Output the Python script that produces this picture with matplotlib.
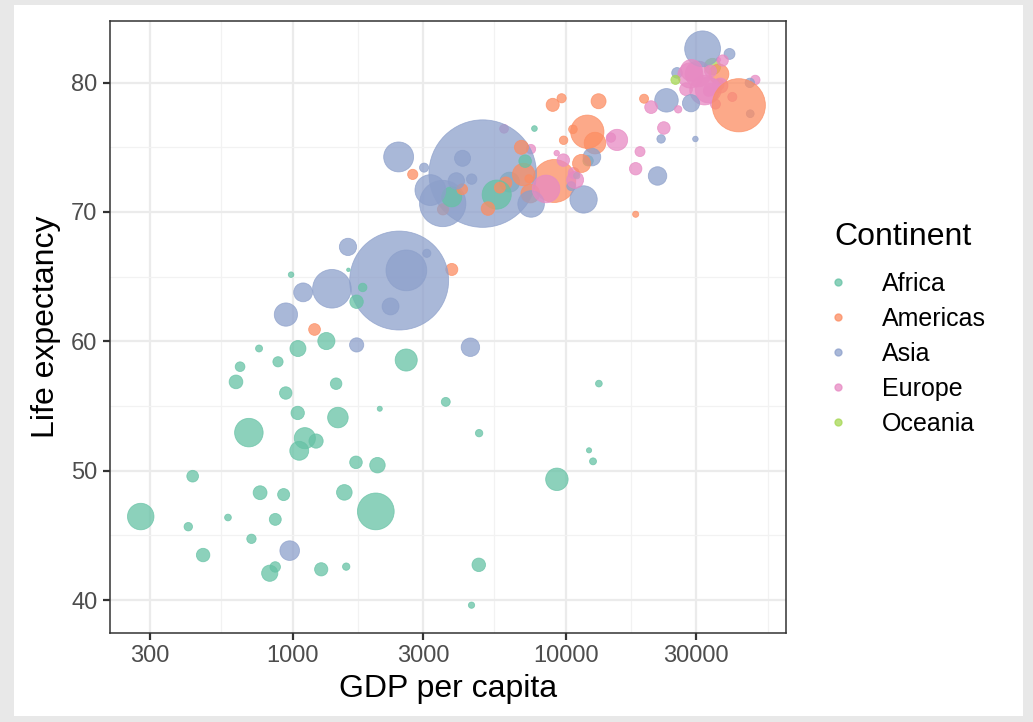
import numpy as np
import pandas as pd
import matplotlib.pyplot as plt
from matplotlib.lines import Line2D
from matplotlib.patches import Rectangle

# gapminder, year 2007: country, life expectancy, population, GDP per capita
africa_country = ["Algeria", "Angola", "Benin", "Botswana", "Burkina Faso", "Burundi", "Cameroon",
                  "Central African Republic", "Chad", "Comoros", "Congo, Dem. Rep.", "Congo, Rep.",
                  "Cote d'Ivoire", "Djibouti", "Egypt", "Equatorial Guinea", "Eritrea", "Ethiopia",
                  "Gabon", "Gambia", "Ghana", "Guinea", "Guinea-Bissau", "Kenya", "Lesotho", "Liberia",
                  "Libya", "Madagascar", "Malawi", "Mali", "Mauritania", "Mauritius", "Morocco",
                  "Mozambique", "Namibia", "Niger", "Nigeria", "Reunion", "Rwanda",
                  "Sao Tome and Principe", "Senegal", "Sierra Leone", "Somalia", "South Africa",
                  "Sudan", "Swaziland", "Tanzania", "Togo", "Tunisia", "Uganda", "Zambia", "Zimbabwe"]
africa_life = [72.301, 42.731, 56.728, 50.728, 52.295, 49.580, 50.430, 44.741, 50.651, 65.152,
               46.462, 55.322, 48.328, 54.791, 71.338, 51.579, 58.040, 52.947, 56.735, 59.448,
               60.022, 56.007, 46.388, 54.110, 42.592, 45.678, 73.952, 59.443, 48.303, 54.467,
               64.164, 72.801, 71.164, 42.082, 52.906, 56.867, 46.859, 76.442, 46.242, 65.528,
               63.062, 42.568, 48.159, 49.339, 58.556, 39.613, 52.517, 58.420, 73.923, 51.542,
               42.384, 43.487]
africa_pop = [33333216, 12420476, 8078314, 1639131, 14326203, 8390505, 17696293, 4369038, 10238807,
              710960, 64606759, 3800610, 18013409, 496374, 80264543, 551201, 4906585, 76511887,
              1454867, 1688359, 22873338, 9947814, 1472041, 35610177, 2012649, 3193942, 6036914,
              19167654, 13327079, 12031795, 3270065, 1250882, 33757175, 19951656, 2055080,
              12894865, 135031164, 798094, 8860588, 199579, 12267493, 6144562, 9118773, 43997828,
              42292929, 1133066, 38139640, 5701579, 10276158, 29170398, 11746035, 12311143]
africa_gdp = [6223.4, 4797.2, 1441.3, 12569.9, 1217.0, 430.1, 2042.1, 706.0, 1704.1, 986.1,
              277.6, 3632.6, 1544.8, 2082.5, 5581.2, 12154.1, 641.4, 690.8, 13206.5, 752.7,
              1327.6, 942.7, 579.2, 1463.2, 1569.3, 414.5, 12057.5, 1044.8, 759.3, 1042.6,
              1803.2, 10957.0, 3820.2, 823.7, 4811.1, 619.7, 2014.0, 7670.1, 863.1, 1598.4,
              1712.5, 862.5, 926.1, 9269.7, 2602.4, 4513.5, 1107.5, 883.0, 7092.9, 1056.4,
              1271.2, 469.7]

americas_country = ["Argentina", "Bolivia", "Brazil", "Canada", "Chile", "Colombia", "Costa Rica",
                    "Cuba", "Dominican Republic", "Ecuador", "El Salvador", "Guatemala", "Haiti",
                    "Honduras", "Jamaica", "Mexico", "Nicaragua", "Panama", "Paraguay", "Peru",
                    "Puerto Rico", "Trinidad and Tobago", "United States", "Uruguay", "Venezuela"]
americas_life = [75.320, 65.554, 72.390, 80.653, 78.553, 72.889, 78.782, 78.273, 72.235, 74.994,
                 71.878, 70.259, 60.916, 70.198, 72.567, 76.195, 72.899, 75.537, 71.752, 71.421,
                 78.746, 69.819, 78.242, 76.384, 73.747]
americas_pop = [40301927, 9119152, 190010647, 33390141, 16284741, 44227550, 4133884, 11416987,
                9319622, 13755680, 6939688, 12572928, 8502814, 7483763, 2780132, 108700891,
                5675356, 3242173, 6667147, 28674757, 3942491, 1056608, 301139947, 3447496, 26084662]
americas_gdp = [12779.4, 3822.1, 9065.8, 36319.2, 13171.6, 7006.6, 9645.1, 8948.1, 6025.4, 6873.3,
                5728.4, 5186.1, 1201.6, 3548.3, 7320.9, 11977.6, 2749.3, 9809.2, 4172.8, 7408.9,
                19328.7, 18008.5, 42951.7, 10611.5, 11415.8]

asia_country = ["Afghanistan", "Bahrain", "Bangladesh", "Cambodia", "China", "Hong Kong, China",
                "India", "Indonesia", "Iran", "Iraq", "Israel", "Japan", "Jordan", "Korea, Dem. Rep.",
                "Korea, Rep.", "Kuwait", "Lebanon", "Malaysia", "Mongolia", "Myanmar", "Nepal", "Oman",
                "Pakistan", "Philippines", "Saudi Arabia", "Singapore", "Sri Lanka", "Syria", "Taiwan",
                "Thailand", "Vietnam", "West Bank and Gaza", "Yemen, Rep."]
asia_life = [43.828, 75.635, 64.062, 59.723, 72.961, 82.208, 64.698, 70.650, 70.964, 59.545,
             80.745, 82.603, 72.535, 67.297, 78.623, 77.588, 71.993, 74.241, 66.803, 62.069,
             63.785, 75.640, 65.483, 71.688, 72.777, 79.972, 72.396, 74.143, 78.400, 70.616,
             74.249, 73.422, 62.698]
asia_pop = [31889923, 708573, 150448339, 14131858, 1318683096, 6980412, 1110396331, 223547000,
            69453570, 27499638, 6426679, 127467972, 6053193, 23301725, 49044790, 2505559, 3921278,
            24821286, 2874127, 47761980, 28901790, 3204897, 169270617, 91077287, 27601038, 4553009,
            20378239, 19314747, 23174294, 65068149, 85262356, 4018332, 22211743]
asia_gdp = [974.6, 29796.0, 1391.3, 1713.8, 4959.1, 39725.0, 2452.2, 3540.7, 11605.7, 4471.1,
            25523.3, 31656.1, 4519.5, 1593.1, 23348.1, 47307.0, 10461.1, 12451.7, 3095.8, 944.0,
            1091.4, 22316.2, 2605.9, 3190.5, 21654.8, 47143.2, 3970.1, 4184.5, 28718.3, 7458.4,
            2441.6, 3025.3, 2280.8]

europe_country = ["Albania", "Austria", "Belgium", "Bosnia and Herzegovina", "Bulgaria", "Croatia",
                  "Czech Republic", "Denmark", "Finland", "France", "Germany", "Greece", "Hungary",
                  "Iceland", "Ireland", "Italy", "Montenegro", "Netherlands", "Norway", "Poland",
                  "Portugal", "Romania", "Serbia", "Slovak Republic", "Slovenia", "Spain", "Sweden",
                  "Switzerland", "Turkey", "United Kingdom"]
europe_life = [76.423, 79.829, 79.441, 74.852, 73.005, 75.748, 76.486, 78.332, 79.313, 80.657,
               79.406, 79.483, 73.338, 81.757, 78.885, 80.546, 74.543, 79.762, 80.196, 75.563,
               78.098, 72.476, 74.002, 74.663, 77.926, 80.941, 80.884, 81.701, 71.777, 79.425]
europe_pop = [3600523, 8199783, 10392226, 4552198, 7322858, 4493312, 10228744, 5468120, 5238460,
              61083916, 82400996, 10706290, 9956108, 301931, 4109086, 58147733, 684736, 16570613,
              4627926, 38518241, 10642836, 22276056, 10150265, 5447502, 2009245, 40448191,
              9031088, 7554661, 71158647, 60776238]
europe_gdp = [5937.0, 36126.5, 33692.6, 7446.3, 10680.8, 14619.2, 22833.3, 35278.4, 33207.1,
              30470.0, 32170.4, 27538.4, 18008.9, 36180.8, 40676.0, 28569.7, 9253.9, 36797.9,
              49357.2, 15389.9, 20509.7, 10808.5, 9786.5, 18678.3, 25768.3, 28821.1, 33859.8,
              37506.4, 8458.3, 33203.3]

oceania_country = ["Australia", "New Zealand"]
oceania_life = [81.235, 80.204]
oceania_pop = [20434176, 4115771]
oceania_gdp = [34435.4, 25185.0]

continents = ["Africa", "Americas", "Asia", "Europe", "Oceania"]
palette = ["#66C2A5", "#FC8D62", "#8DA0CB", "#E78AC3", "#A6D854"]

frames = []
for cont, names, life, pop, gdp in [
        ("Africa", africa_country, africa_life, africa_pop, africa_gdp),
        ("Americas", americas_country, americas_life, americas_pop, americas_gdp),
        ("Asia", asia_country, asia_life, asia_pop, asia_gdp),
        ("Europe", europe_country, europe_life, europe_pop, europe_gdp),
        ("Oceania", oceania_country, oceania_life, oceania_pop, oceania_gdp)]:
    frames.append(pd.DataFrame({"country": names, "continent": cont,
                                "lifeExp": life, "pop": pop, "gdpPercap": gdp}))
df = pd.concat(frames).sort_values("country").reset_index(drop=True)

# bubble area follows population (sqrt scaling, like scale_size)
pmin, pmax = df["pop"].min(), df["pop"].max()
diam_px = 3.5 + 104 * np.sqrt((df["pop"] - pmin) / (pmax - pmin))
df["s"] = (diam_px * 0.72) ** 2
cmap = dict(zip(continents, palette))
df["color"] = df["continent"].map(cmap)

plt.rcParams["font.family"] = ["Liberation Sans", "DejaVu Sans"]

fig = plt.figure(figsize=(10.33, 7.22), dpi=100)
fig.patch.set_facecolor("#e8e8e8")
fig.patches.append(Rectangle((14 / 1033, 1 - 716 / 722), 1009 / 1033, 711 / 722,
                             transform=fig.transFigure, facecolor="white",
                             edgecolor="none", zorder=-10))

ax = fig.add_axes([110 / 1033, 1 - 633 / 722, 676 / 1033, 612 / 722])
ax.scatter(df["gdpPercap"], df["lifeExp"], s=df["s"], c=df["color"],
           edgecolors=df["color"], linewidths=0.6, alpha=0.75, zorder=3)

ax.set_xscale("log")
lx = np.log10([df["gdpPercap"].min(), df["gdpPercap"].max()])
pad = 0.05 * (lx[1] - lx[0])
ax.set_xlim(10 ** (lx[0] - pad), 10 ** (lx[1] + pad))
ly = [df["lifeExp"].min(), df["lifeExp"].max()]
pad = 0.05 * (ly[1] - ly[0])
ax.set_ylim(ly[0] - pad, ly[1] + pad)

xticks = [300, 1000, 3000, 10000, 30000]
ax.set_xticks(xticks)
ax.set_xticklabels([str(t) for t in xticks])
xt = np.log10(xticks + [100000])
ax.set_xticks(10 ** ((xt[:-1] + xt[1:]) / 2), minor=True)
ax.set_yticks([40, 50, 60, 70, 80])
ax.set_yticks([45, 55, 65, 75], minor=True)

ax.grid(True, which="major", color="#ebebeb", linewidth=1.6, zorder=0)
ax.grid(True, which="minor", color="#f2f2f2", linewidth=0.9, zorder=0)
ax.set_axisbelow(True)
ax.tick_params(which="major", length=5, width=1.6, color="#333333",
               labelsize=17, labelcolor="#4d4d4d", pad=4)
ax.tick_params(which="minor", length=0)
for sp in ax.spines.values():
    sp.set_color("#333333")
    sp.set_linewidth(1.1)

ax.set_xlabel("GDP per capita", fontsize=23, labelpad=5)
ax.set_ylabel("Life expectancy", fontsize=23, labelpad=7)

# legend: title placed separately so the gap under it can be set freely
fig.text(834 / 1033, 1 - 237 / 722, "Continent", fontsize=23, va="center", ha="left")
handles = [Line2D([], [], marker="o", linestyle="", markersize=5, color=c, alpha=0.75)
           for c in palette]
fig.legend(handles, continents, loc="upper left",
           bbox_to_anchor=(823 / 1033, 1 - 272 / 722), frameon=False,
           fontsize=18, labelspacing=0.44, handletextpad=1.15, handlelength=1.2,
           borderaxespad=0, borderpad=0)

fig.savefig("out.png", dpi=100, facecolor=fig.get_facecolor())
